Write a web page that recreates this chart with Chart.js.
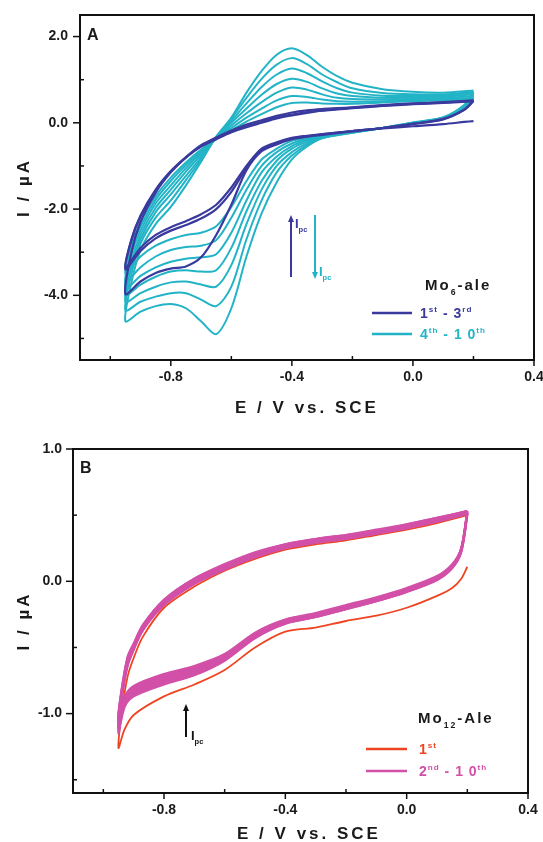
<!DOCTYPE html>
<html>
<head>
<meta charset="utf-8">
<script src="https://cdn.jsdelivr.net/npm/chart.js@4.4.1/dist/chart.umd.min.js"></script>
<style>
  body { margin: 0; background: #fff; width: 543px; height: 842px; overflow: hidden; position: relative; }
  canvas { position: absolute; left: 0; }
  #cA { top: 0; }
  #cB { top: 400px; }
</style>
</head>
<body>
<canvas id="cA" width="543" height="425"></canvas>
<canvas id="cB" width="543" height="442"></canvas>
<script>
// ---- panel A: Mo6-ale, cycles 1..10 ----
// potential grid: cathodic sweep 0.2 -> -0.95, then anodic back to 0.2
const cathA = [0.2, 0.17, 0.1, 0.0, -0.1, -0.2, -0.3, -0.35, -0.4, -0.45, -0.5, -0.55, -0.6, -0.65, -0.7, -0.75, -0.8, -0.85, -0.9, -0.95];
const anodA = [-0.93, -0.9, -0.85, -0.8, -0.75, -0.7, -0.65, -0.6, -0.55, -0.5, -0.45, -0.4, -0.35, -0.3, -0.25, -0.2, -0.1, 0.0, 0.1, 0.2];
const potentialA = cathA.concat(anodA);

const cyc1 = [0.04, 0.02, -0.03, -0.08, -0.13, -0.19, -0.26, -0.3, -0.35, -0.45, -0.6, -1.0, -1.5, -1.9, -2.12, -2.28, -2.42, -2.6, -2.9, -3.36,
              -2.7, -2.15, -1.55, -1.12, -0.8, -0.55, -0.38, -0.22, -0.1, 0.0, 0.1, 0.17, 0.23, 0.28, 0.31, 0.34, 0.39, 0.43, 0.46, 0.5];
const cyc2 = [0.5, 0.3, 0.08, -0.03, -0.12, -0.19, -0.27, -0.31, -0.36, -0.47, -0.63, -1.05, -1.6, -2.0, -2.22, -2.37, -2.5, -2.68, -2.97, -3.4,
              -2.72, -2.17, -1.57, -1.13, -0.8, -0.54, -0.37, -0.21, -0.08, 0.02, 0.12, 0.19, 0.25, 0.29, 0.32, 0.35, 0.4, 0.44, 0.47, 0.51];
const cyc3 = [0.51, 0.31, 0.09, -0.02, -0.12, -0.2, -0.28, -0.32, -0.38, -0.5, -0.66, -1.1, -1.9, -2.6, -3.12, -3.33, -3.38, -3.48, -3.68, -3.97,
              -3.0, -2.3, -1.62, -1.15, -0.8, -0.52, -0.34, -0.18, -0.04, 0.06, 0.16, 0.24, 0.29, 0.32, 0.34, 0.36, 0.41, 0.45, 0.48, 0.52];
const cyc4 = [0.52, 0.32, 0.1, -0.02, -0.12, -0.2, -0.29, -0.35, -0.42, -0.6, -0.85, -1.35, -1.95, -2.4, -2.55, -2.6, -2.7, -2.85, -3.1, -3.5,
              -2.85, -2.3, -1.7, -1.27, -0.92, -0.62, -0.38, -0.17, 0.03, 0.2, 0.36, 0.46, 0.47, 0.45, 0.44, 0.44, 0.47, 0.5, 0.52, 0.55];
const cyc5 = [0.55, 0.33, 0.1, -0.02, -0.12, -0.21, -0.3, -0.37, -0.48, -0.68, -1.0, -1.55, -2.2, -2.72, -2.85, -2.88, -2.95, -3.1, -3.35, -3.7,
              -2.95, -2.4, -1.78, -1.35, -0.98, -0.65, -0.37, -0.12, 0.12, 0.33, 0.52, 0.62, 0.6, 0.54, 0.5, 0.49, 0.5, 0.52, 0.54, 0.58];
const cyc6 = [0.58, 0.34, 0.11, -0.01, -0.12, -0.21, -0.31, -0.4, -0.54, -0.78, -1.15, -1.8, -2.55, -3.05, -3.12, -3.15, -3.22, -3.35, -3.55, -3.85,
              -3.05, -2.5, -1.87, -1.45, -1.05, -0.69, -0.36, -0.06, 0.22, 0.48, 0.7, 0.82, 0.77, 0.66, 0.58, 0.55, 0.54, 0.55, 0.57, 0.62];
const cyc7 = [0.62, 0.36, 0.11, -0.01, -0.12, -0.22, -0.32, -0.43, -0.6, -0.88, -1.35, -2.05, -2.9, -3.42, -3.45, -3.42, -3.45, -3.57, -3.75, -4.0,
              -3.2, -2.6, -1.97, -1.55, -1.13, -0.74, -0.35, 0.0, 0.33, 0.65, 0.9, 1.02, 0.95, 0.8, 0.68, 0.62, 0.58, 0.58, 0.6, 0.66];
const cyc8 = [0.66, 0.38, 0.12, 0.0, -0.12, -0.22, -0.33, -0.47, -0.68, -1.0, -1.55, -2.35, -3.3, -3.8, -3.75, -3.68, -3.7, -3.8, -3.95, -4.15,
              -3.35, -2.7, -2.07, -1.66, -1.23, -0.8, -0.34, 0.05, 0.45, 0.83, 1.12, 1.26, 1.15, 0.96, 0.8, 0.7, 0.63, 0.62, 0.63, 0.7];
const cyc9 = [0.7, 0.4, 0.12, 0.0, -0.12, -0.23, -0.35, -0.51, -0.76, -1.15, -1.8, -2.7, -3.8, -4.25, -4.1, -3.95, -3.95, -4.03, -4.15, -4.35,
              -3.5, -2.8, -2.2, -1.8, -1.33, -0.85, -0.33, 0.1, 0.58, 1.02, 1.35, 1.5, 1.36, 1.12, 0.94, 0.8, 0.69, 0.66, 0.66, 0.72];
const cyc10 = [0.72, 0.42, 0.13, 0.01, -0.12, -0.23, -0.36, -0.55, -0.85, -1.38, -2.1, -3.1, -4.3, -4.9, -4.6, -4.3, -4.2, -4.25, -4.38, -4.6,
               -3.7, -2.95, -2.35, -1.95, -1.45, -0.9, -0.32, 0.12, 0.7, 1.2, 1.58, 1.73, 1.57, 1.3, 1.08, 0.93, 0.78, 0.72, 0.7, 0.75];

// ---- panel B: Mo12-Ale, cycles 1..10 ----
const cathB = [0.2, 0.18, 0.15, 0.1, 0.0, -0.1, -0.2, -0.3, -0.4, -0.5, -0.6, -0.7, -0.8, -0.9, -0.93, -0.95];
const anodB = [-0.94, -0.92, -0.9, -0.87, -0.8, -0.7, -0.6, -0.5, -0.4, -0.3, -0.2, -0.1, 0.0, 0.1, 0.2];
const potentialB = cathB.concat(anodB);

const b1 = [0.11, 0.02, -0.05, -0.11, -0.2, -0.26, -0.3, -0.35, -0.38, -0.5, -0.67, -0.78, -0.87, -1.01, -1.12, -1.26,
            -1.0, -0.72, -0.58, -0.42, -0.2, -0.04, 0.08, 0.17, 0.24, 0.28, 0.31, 0.35, 0.39, 0.44, 0.5];
const b2 = [0.5, 0.22, 0.1, 0.01, -0.08, -0.15, -0.21, -0.27, -0.32, -0.43, -0.6, -0.71, -0.78, -0.87, -0.95, -1.15,
            -0.9, -0.64, -0.52, -0.37, -0.18, -0.02, 0.09, 0.18, 0.25, 0.29, 0.32, 0.36, 0.4, 0.45, 0.51];
const b3 = [0.51, 0.23, 0.1, 0.01, -0.08, -0.15, -0.21, -0.27, -0.32, -0.42, -0.59, -0.7, -0.77, -0.86, -0.94, -1.13,
            -0.89, -0.63, -0.51, -0.37, -0.17, -0.01, 0.1, 0.19, 0.25, 0.3, 0.33, 0.36, 0.41, 0.46, 0.51];
const b4 = [0.51, 0.23, 0.11, 0.02, -0.07, -0.14, -0.2, -0.26, -0.31, -0.42, -0.58, -0.69, -0.76, -0.85, -0.93, -1.11,
            -0.88, -0.62, -0.5, -0.36, -0.17, -0.01, 0.1, 0.19, 0.26, 0.3, 0.33, 0.37, 0.41, 0.46, 0.52];
const b5 = [0.52, 0.24, 0.11, 0.02, -0.07, -0.14, -0.2, -0.26, -0.31, -0.41, -0.58, -0.68, -0.75, -0.84, -0.92, -1.1,
            -0.87, -0.61, -0.5, -0.36, -0.16, 0.0, 0.11, 0.2, 0.26, 0.3, 0.33, 0.37, 0.41, 0.46, 0.52];
const b6 = [0.52, 0.24, 0.11, 0.02, -0.07, -0.14, -0.2, -0.26, -0.3, -0.41, -0.57, -0.67, -0.74, -0.83, -0.91, -1.08,
            -0.86, -0.6, -0.49, -0.35, -0.16, 0.0, 0.11, 0.2, 0.27, 0.31, 0.34, 0.37, 0.42, 0.47, 0.52];
const b7 = [0.52, 0.24, 0.12, 0.03, -0.06, -0.13, -0.19, -0.25, -0.3, -0.4, -0.57, -0.66, -0.73, -0.82, -0.9, -1.07,
            -0.85, -0.6, -0.49, -0.35, -0.15, 0.01, 0.11, 0.2, 0.27, 0.31, 0.34, 0.38, 0.42, 0.47, 0.52];
const b8 = [0.52, 0.25, 0.12, 0.03, -0.06, -0.13, -0.19, -0.25, -0.3, -0.4, -0.56, -0.66, -0.72, -0.81, -0.89, -1.05,
            -0.84, -0.59, -0.48, -0.34, -0.15, 0.01, 0.12, 0.21, 0.27, 0.31, 0.34, 0.38, 0.42, 0.47, 0.53];
const b9 = [0.53, 0.25, 0.12, 0.03, -0.06, -0.13, -0.19, -0.25, -0.29, -0.39, -0.56, -0.65, -0.71, -0.8, -0.88, -1.04,
            -0.83, -0.58, -0.48, -0.34, -0.14, 0.02, 0.12, 0.21, 0.28, 0.32, 0.35, 0.38, 0.43, 0.48, 0.53];
const b10 = [0.53, 0.25, 0.13, 0.04, -0.05, -0.12, -0.18, -0.24, -0.29, -0.39, -0.55, -0.64, -0.7, -0.79, -0.87, -1.02,
             -0.82, -0.57, -0.47, -0.33, -0.14, 0.02, 0.13, 0.22, 0.28, 0.32, 0.35, 0.39, 0.43, 0.48, 0.53];

// ticks
const xTicks = [-1.0, -0.8, -0.6, -0.4, -0.2, 0.0, 0.2, 0.4];
const xMajor = [-0.8, -0.4, 0.0, 0.4];
const yTicksA = [-5, -4, -3, -2, -1, 0, 1, 2];
const yMajorA = [-4, -2, 0, 2];
const yTicksB = [-1.5, -1.0, -0.5, 0.0, 0.5, 1.0];
const yMajorB = [-1, 0, 1];

const FONT = '"Liberation Sans", Arial, sans-serif';
const DARK = '#3a3a9e';
const CYAN = '#22b4c6';
const RED = '#ef4422';
const MAGENTA = '#d250a8';

function pts(E, I) { return E.map((e, i) => ({ x: e, y: I[i] })); }

function line(data, color, width) {
  return { data, borderColor: color, borderWidth: width, pointRadius: 0, showLine: true, fill: false, tension: 0.3 };
}

function rich(ctx, x, y, parts, size, color) {
  ctx.fillStyle = color;
  ctx.textAlign = 'left';
  ctx.textBaseline = 'alphabetic';
  parts.forEach(([t, k]) => {
    const s = k ? size * 0.58 : size;
    ctx.font = `bold ${s}px ${FONT}`;
    const dy = k === 'sup' ? -size * 0.42 : k === 'sub' ? size * 0.3 : 0;
    ctx.fillText(t, x, y + dy);
    x += ctx.measureText(t).width;
  });
}

function arrow(ctx, x, y0, y1, color) {
  const dir = y1 < y0 ? -1 : 1;
  ctx.strokeStyle = color; ctx.fillStyle = color; ctx.lineWidth = 2;
  ctx.beginPath(); ctx.moveTo(x, y0); ctx.lineTo(x, y1 - dir * 5); ctx.stroke();
  ctx.beginPath(); ctx.moveTo(x, y1); ctx.lineTo(x - 3, y1 - dir * 7); ctx.lineTo(x + 3, y1 - dir * 7); ctx.closePath(); ctx.fill();
}

function spaced(ctx, text, cx, cy, size, rot) {
  ctx.save();
  ctx.translate(cx, cy);
  if (rot) ctx.rotate(-Math.PI / 2);
  ctx.font = `bold ${size}px ${FONT}`;
  ctx.letterSpacing = '3px';
  ctx.fillStyle = '#1a1a1a';
  ctx.textAlign = 'center';
  ctx.textBaseline = 'middle';
  ctx.fillText(text, 0, 0);
  ctx.restore();
}

// frame + Origin style ticks (major out, minor in) + labels
function framePlugin(yMajor, titleY, titleX, extras) {
  return {
    id: 'frame',
    afterDraw(chart) {
      const ctx = chart.ctx;
      const a = chart.chartArea;
      const xs = chart.scales.x, ys = chart.scales.y;
      ctx.save();
      ctx.strokeStyle = '#111'; ctx.lineWidth = 2;
      ctx.strokeRect(a.left, a.top, a.right - a.left, a.bottom - a.top);
      ctx.lineWidth = 1.5;
      xs.ticks.forEach(t => {
        const px = xs.getPixelForValue(t.value);
        const major = xMajor.includes(t.value);
        ctx.beginPath(); ctx.moveTo(px, a.bottom); ctx.lineTo(px, major ? a.bottom + 6 : a.bottom - 4); ctx.stroke();
      });
      ys.ticks.forEach(t => {
        const py = ys.getPixelForValue(t.value);
        const major = yMajor.includes(t.value);
        ctx.beginPath(); ctx.moveTo(a.left, py); ctx.lineTo(major ? a.left - 7 : a.left + 4, py); ctx.stroke();
      });
      spaced(ctx, 'E / V vs. SCE', titleX, titleY, 17, false);
      spaced(ctx, 'I / µA', 24, (a.top + a.bottom) / 2, 17, true);
      ctx.letterSpacing = '0px';
      extras(ctx);
      ctx.restore();
    }
  };
}

function options(yTicks, yMajor, yMin, yMax, yWidth, xHeight, pad, yPad) {
  const tickFont = { family: FONT, size: 14, weight: 'bold' };
  return {
    responsive: false,
    animation: false,
    layout: { padding: pad, autoPadding: false },
    plugins: { legend: { display: false }, tooltip: { enabled: false } },
    scales: {
      x: {
        type: 'linear', min: -1.1, max: 0.4,
        grid: { display: false, drawTicks: false },
        border: { display: false },
        ticks: { padding: 9, font: tickFont, color: '#1a1a1a', maxRotation: 0, autoSkip: false,
                 callback: v => xMajor.includes(v) ? v.toFixed(1) : '' },
        afterBuildTicks: s => { s.ticks = xTicks.map(v => ({ value: v })); },
        afterFit: s => { s.height = xHeight; s.paddingLeft = 0; s.paddingRight = 0; }
      },
      y: {
        type: 'linear', min: yMin, max: yMax,
        grid: { display: false, drawTicks: false },
        border: { display: false },
        ticks: { padding: yPad, font: tickFont, color: '#1a1a1a', autoSkip: false,
                 callback: v => yMajor.includes(v) ? v.toFixed(1) : '' },
        afterBuildTicks: s => { s.ticks = yTicks.map(v => ({ value: v })); },
        afterFit: s => { s.width = yWidth; s.paddingTop = 0; s.paddingBottom = 0; }
      }
    }
  };
}

const darkCycles = [cyc3, cyc2, cyc1];
const cyanCycles = [cyc10, cyc9, cyc8, cyc7, cyc6, cyc5, cyc4];

new Chart(document.getElementById('cA'), {
  type: 'scatter',
  data: {
    datasets: darkCycles.map(c => line(pts(potentialA, c), DARK, 2.2))
      .concat(cyanCycles.map(c => line(pts(potentialA, c), CYAN, 2)))
  },
  options: options(yTicksA, yMajorA, -5.5, 2.5, 80, 65, { top: 15, right: 9, left: 0, bottom: 0 }, 12),
  plugins: [framePlugin(yMajorA, 408, 307, ctx => {
    ctx.font = `bold 16px ${FONT}`; ctx.fillStyle = '#1a1a1a'; ctx.textAlign = 'left';
    ctx.fillText('A', 87, 40);
    arrow(ctx, 291, 277, 215, DARK);
    rich(ctx, 295, 228, [['I', ''], ['pc', 'sub']], 13, DARK);
    arrow(ctx, 315, 215, 279, CYAN);
    rich(ctx, 319, 276, [['I', ''], ['pc', 'sub']], 13, CYAN);
    ctx.letterSpacing = '2px';
    rich(ctx, 425, 290, [['Mo', ''], ['6', 'sub'], ['-ale', '']], 15, '#1a1a1a');
    ctx.letterSpacing = '1px';
    ctx.lineWidth = 2.5;
    ctx.strokeStyle = DARK; ctx.beginPath(); ctx.moveTo(372, 313); ctx.lineTo(412, 313); ctx.stroke();
    rich(ctx, 420, 318, [['1', ''], ['st', 'sup'], [' - 3', ''], ['rd', 'sup']], 14, DARK);
    ctx.strokeStyle = CYAN; ctx.beginPath(); ctx.moveTo(372, 334); ctx.lineTo(412, 334); ctx.stroke();
    rich(ctx, 420, 339, [['4', ''], ['th', 'sup'], [' - 1 0', ''], ['th', 'sup']], 14, CYAN);
  })]
});

const magentaCycles = [b10, b9, b8, b7, b6, b5, b4, b3, b2];

new Chart(document.getElementById('cB'), {
  type: 'scatter',
  data: {
    datasets: magentaCycles.map(c => line(pts(potentialB, c), MAGENTA, 2.2))
      .concat([line(pts(potentialB, b1), RED, 1.8)])
  },
  options: options(yTicksB, yMajorB, -1.6, 1.0, 73, 49, { top: 49, right: 15, left: 0, bottom: 0 }, 11),
  plugins: [framePlugin(yMajorB, 434, 309, ctx => {
    ctx.font = `bold 16px ${FONT}`; ctx.fillStyle = '#1a1a1a'; ctx.textAlign = 'left';
    ctx.fillText('B', 80, 73);
    arrow(ctx, 186, 337, 304, '#111');
    rich(ctx, 191, 340, [['I', ''], ['pc', 'sub']], 13, '#111');
    ctx.letterSpacing = '2px';
    rich(ctx, 418, 323, [['Mo', ''], ['12', 'sub'], ['-Ale', '']], 15, '#1a1a1a');
    ctx.letterSpacing = '1px';
    ctx.lineWidth = 2.5;
    ctx.strokeStyle = RED; ctx.beginPath(); ctx.moveTo(366, 349); ctx.lineTo(407, 349); ctx.stroke();
    rich(ctx, 419, 354, [['1', ''], ['st', 'sup']], 14, RED);
    ctx.strokeStyle = MAGENTA; ctx.beginPath(); ctx.moveTo(366, 371); ctx.lineTo(407, 371); ctx.stroke();
    rich(ctx, 419, 376, [['2', ''], ['nd', 'sup'], [' - 1 0', ''], ['th', 'sup']], 14, MAGENTA);
  })]
});
</script>
</body>
</html>
